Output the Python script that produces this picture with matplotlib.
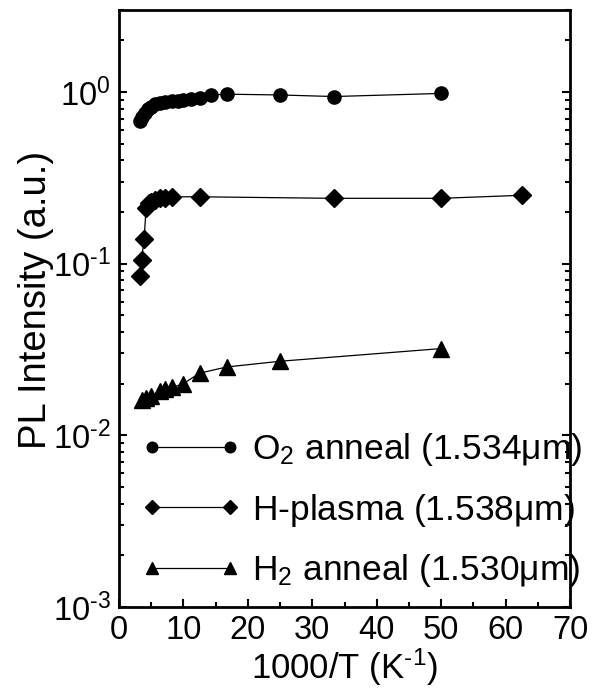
import matplotlib
matplotlib.use("Agg")
import matplotlib.pyplot as plt
from matplotlib.ticker import LogLocator, MultipleLocator, FuncFormatter, NullFormatter
import numpy as np

plt.rcParams['font.family'] = ['Liberation Sans', 'DejaVu Sans']
plt.rcParams['mathtext.fontset'] = 'custom'
plt.rcParams['mathtext.rm'] = 'Liberation Sans'
plt.rcParams['mathtext.it'] = 'Liberation Sans:italic'
plt.rcParams['mathtext.default'] = 'regular'

HY = '\u2010'

# ---- data ----
o2_x = [3.3, 3.6, 4.0, 4.5, 5.0, 5.6, 6.3, 7.1, 8.3, 9.1, 10.0, 11.1, 12.5, 14.3, 16.7, 25.0, 33.3, 50.0]
o2_y = [0.68, 0.71, 0.75, 0.79, 0.82, 0.85, 0.86, 0.87, 0.88, 0.89, 0.90, 0.91, 0.92, 0.96, 0.97, 0.96, 0.94, 0.98]

hp_x = [3.3, 3.5, 3.9, 4.2, 4.6, 5.0, 5.6, 6.3, 7.1, 8.3, 12.5, 33.3, 50.0, 62.5]
hp_y = [0.085, 0.105, 0.14, 0.21, 0.225, 0.23, 0.235, 0.24, 0.24, 0.245, 0.245, 0.24, 0.24, 0.25]

h2_x = [3.6, 4.2, 5.0, 6.3, 7.1, 8.3, 10.0, 12.5, 16.7, 25.0, 50.0]
h2_y = [0.016, 0.0165, 0.017, 0.018, 0.0185, 0.019, 0.020, 0.023, 0.025, 0.027, 0.032]

labels = [r'O$_2$ anneal (1.534$\mu$m)',
          r'H-plasma (1.538$\mu$m)',
          r'H$_2$ anneal (1.530$\mu$m)']


def log_fmt(v, pos):
    e = int(round(np.log10(v)))
    s = str(e).replace('-', HY)
    return '$10^{' + s + '}$'


fig = plt.figure(figsize=(5.92, 6.94), dpi=100)
ax = fig.add_axes([119/592, 1 - 607/694, 451/592, 597/694])

ax.plot(o2_x, o2_y, '-', color='black', lw=0.9, marker='o', ms=9.5, label=labels[0])
ax.plot(hp_x, hp_y, '-', color='black', lw=0.9, marker='D', ms=9.0, label=labels[1])
ax.plot(h2_x, h2_y, '-', color='black', lw=0.9, marker='^', ms=11, label=labels[2])

ax.set_yscale('log')
ax.set_xlim(0, 70)
ax.set_ylim(1e-3, 3)
ax.xaxis.set_major_locator(MultipleLocator(10))
ax.xaxis.set_minor_locator(MultipleLocator(5))
ax.yaxis.set_major_locator(LogLocator(base=10, numticks=10))
ax.yaxis.set_minor_locator(LogLocator(base=10, subs=range(2, 10), numticks=20))
ax.yaxis.set_major_formatter(FuncFormatter(log_fmt))
ax.yaxis.set_minor_formatter(NullFormatter())

ax.tick_params(which='both', direction='in', right=True, top=False, width=1.5)
ax.tick_params(which='major', length=6, labelsize=23.5, pad=6)
ax.tick_params(which='minor', length=3.5)
for s in ax.spines.values():
    s.set_linewidth(2.0)

ax.set_xlabel('1000/T (K$^{' + HY + '1}$)', fontsize=25, labelpad=0)
ax.set_ylabel('PL Intensity (a.u.)', fontsize=27.5, labelpad=4)
ax.yaxis.set_label_coords(-0.145, 0.515)

leg = ax.legend(loc='lower left', bbox_to_anchor=(0.049, 0.03), frameon=False,
                fontsize=25.5, numpoints=2, markerscale=0.8, handlelength=2.8,
                handletextpad=0.33, labelspacing=0.66, borderpad=0, borderaxespad=0)

fig.savefig('out.png', dpi=100)
